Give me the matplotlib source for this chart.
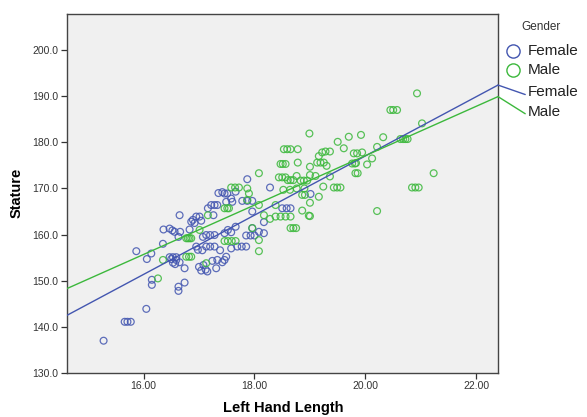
import matplotlib
matplotlib.use("Agg")
import matplotlib.pyplot as plt
from matplotlib.lines import Line2D

plt.rcParams['font.family'] = ['Liberation Sans', 'DejaVu Sans']

# ---- data ----
female_x = [15.28, 15.66, 15.71, 15.77, 16.05, 16.15, 16.15, 16.06, 16.50, 16.53,
            16.57, 16.59, 16.63, 16.63, 16.74, 16.74, 16.65, 17.00, 17.04, 17.08,
            17.12, 17.15, 17.31, 17.24, 17.33, 17.42, 15.87, 16.14, 16.35, 16.36,
            16.47, 16.52, 16.56, 16.65, 16.66, 16.63, 16.83, 16.86, 16.89, 16.95,
            17.01, 17.07, 17.13, 17.20, 17.28, 17.16, 17.22, 17.28, 17.33, 17.26,
            17.46, 17.51, 17.49, 16.95, 16.98, 17.13, 17.20, 17.28, 17.06, 17.38,
            16.47, 16.53, 16.59, 17.87, 19.01, 18.28, 17.66, 17.78, 17.87, 17.96,
            17.96, 18.50, 18.58, 18.65, 18.17, 17.96, 18.08, 18.17, 17.85, 17.93,
            18.00, 17.69, 17.77, 17.85, 17.58, 17.46, 17.52, 17.58, 17.66, 17.49,
            17.46, 17.35, 17.42, 17.58, 17.60, 16.92, 17.04]
female_y = [137.0, 141.1, 141.1, 141.1, 143.9, 150.2, 149.1, 154.7, 154.7, 153.9,
            153.6, 154.5, 148.7, 147.8, 149.6, 152.7, 154.0, 153.0, 152.2, 153.4,
            152.4, 152.0, 152.7, 154.3, 154.5, 154.0, 156.4, 155.9, 158.0, 161.1,
            161.3, 160.9, 160.6, 164.2, 160.6, 159.5, 161.1, 162.8, 163.2, 163.9,
            163.9, 159.5, 159.9, 159.9, 159.9, 165.7, 166.4, 166.4, 166.4, 164.2,
            168.9, 168.9, 167.1, 157.4, 156.7, 157.4, 157.4, 157.4, 156.6, 156.6,
            155.1, 155.1, 155.1, 172.0, 168.8, 170.2, 169.3, 167.3, 167.3, 167.3,
            165.0, 165.7, 165.7, 165.7, 162.7, 161.4, 160.6, 160.3, 159.8, 159.8,
            159.8, 157.4, 157.4, 157.4, 157.0, 160.3, 161.0, 160.5, 161.7, 155.2,
            154.5, 169.0, 169.2, 167.8, 167.1, 162.5, 163.0]

male_x = [16.26, 16.35, 16.77, 16.82, 16.86, 17.13, 16.77, 16.80, 16.83, 16.86,
          17.01, 17.16, 17.46, 17.51, 17.54, 18.99, 19.70, 19.50, 19.61, 18.53,
          18.59, 18.65, 18.78, 19.16, 19.22, 19.28, 19.36, 19.79, 19.85, 18.47,
          18.51, 18.56, 18.78, 19.00, 19.13, 19.19, 19.25, 19.30, 19.76, 19.81,
          18.08, 18.44, 18.50, 18.56, 18.60, 18.65, 18.70, 18.76, 19.00, 19.10,
          18.83, 18.89, 18.95, 18.52, 18.64, 18.76, 18.90, 18.86, 18.91, 19.24,
          19.36, 19.43, 19.49, 19.55, 19.16, 19.00, 17.58, 17.65, 17.72, 17.87,
          17.90, 17.87, 18.08, 18.17, 18.38, 18.47, 18.56, 18.65, 18.86, 19.00,
          18.08, 18.08, 17.46, 17.52, 17.59, 17.66, 18.65, 18.70, 18.75, 18.98,
          18.28, 18.38, 20.93, 20.45, 20.50, 20.57, 21.02, 19.92, 20.32, 20.63,
          20.68, 20.72, 20.76, 20.21, 21.23, 20.84, 20.90, 20.96, 20.21, 19.94,
          20.12, 20.03, 19.83, 19.82, 19.86, 17.96]
male_y = [150.5, 154.5, 155.2, 155.2, 155.2, 153.8, 159.2, 159.2, 159.2, 159.2,
          161.0, 164.2, 165.7, 165.7, 165.7, 181.9, 181.2, 180.1, 178.7, 178.5,
          178.5, 178.5, 178.5, 177.0, 177.8, 178.0, 178.0, 177.6, 177.6, 175.3,
          175.3, 175.3, 175.6, 174.7, 175.6, 175.6, 175.6, 174.9, 175.4, 175.4,
          173.3, 172.4, 172.4, 172.4, 171.8, 171.8, 171.8, 172.7, 172.9, 172.7,
          171.7, 171.7, 171.7, 169.7, 169.7, 170.0, 170.0, 168.6, 168.6, 170.4,
          172.6, 170.2, 170.2, 170.2, 168.2, 166.9, 170.2, 170.2, 170.2, 170.0,
          168.9, 167.5, 166.4, 164.2, 166.4, 163.9, 163.9, 163.9, 165.2, 164.0,
          158.8, 156.4, 158.6, 158.6, 158.6, 158.6, 161.4, 161.4, 161.4, 164.1,
          163.4, 163.9, 190.6, 187.0, 187.0, 187.0, 184.1, 181.6, 181.1, 180.7,
          180.7, 180.7, 180.7, 179.0, 173.3, 170.2, 170.2, 170.2, 165.1, 177.8,
          176.5, 175.2, 175.5, 173.3, 173.3, 161.4]

# fit lines (value at left and right edge of the plot)
fit_x = [14.62, 22.39]
female_fit = [142.5, 192.4]
male_fit = [148.3, 189.9]

x_ticks = [16, 18, 20, 22]
y_ticks = [130, 140, 150, 160, 170, 180, 190, 200]

BLUE = '#4356b0'
GREEN = '#3cb83c'

fig = plt.figure(figsize=(5.87, 4.17), dpi=100)
ax = fig.add_axes([0.1141, 0.1055, 0.7343, 0.8609])
ax.set_facecolor('#f0f0f0')

ax.scatter(female_x, female_y, s=24, facecolors='none', edgecolors=BLUE,
           linewidths=0.9, alpha=0.85, zorder=3)
ax.scatter(male_x, male_y, s=24, facecolors='none', edgecolors=GREEN,
           linewidths=0.9, alpha=0.85, zorder=3)
ax.plot(fit_x, female_fit, color=BLUE, lw=1.0, zorder=4)
ax.plot(fit_x, male_fit, color=GREEN, lw=1.0, zorder=4)

ax.set_xlim(fit_x)
ax.set_ylim(130, 207.8)
ax.set_xticks(x_ticks)
ax.set_xticklabels([f"{v:.2f}" for v in x_ticks])
ax.set_yticks(y_ticks)
ax.set_yticklabels([f"{v:.1f}" for v in y_ticks])
ax.tick_params(axis='both', labelsize=7.5, length=4.5, width=0.9, pad=1.5,
               colors='#333333', labelcolor='#333333')
for sp in ax.spines.values():
    sp.set_color('#444444')
    sp.set_linewidth(1.0)

fig.text(283 / 587, 1 - 408 / 417, 'Left Hand Length', ha='center', va='center',
         fontsize=10.5, fontweight='bold')
fig.text(17 / 587, 1 - 193 / 417, 'Stature', ha='center', va='center',
         rotation=90, fontsize=10.5, fontweight='bold')

# legend on the right
fig.text(541 / 587, 1 - 27 / 417, 'Gender', ha='center', va='center',
         fontsize=8.5, color='#333333')
for yy, col, name in [(51, BLUE, 'Female'), (70, GREEN, 'Male')]:
    fig.add_artist(Line2D([513 / 587], [1 - yy / 417], marker='o', markersize=9.5,
                          markerfacecolor='none', markeredgecolor=col,
                          markeredgewidth=1.0, transform=fig.transFigure))
    fig.text(528 / 587, 1 - yy / 417, name, ha='left', va='center',
             fontsize=11, color='#222222')

# labels at the end of each fit line
for fit, col, name, yy in [(female_fit, BLUE, 'Female', 92),
                           (male_fit, GREEN, 'Male', 112)]:
    ax.annotate(name, xy=(fit_x[1], fit[1]), xycoords='data',
                xytext=(528, 417 - yy), textcoords='figure pixels',
                ha='left', va='center', fontsize=11, color='#222222',
                annotation_clip=False,
                arrowprops=dict(arrowstyle='-', color=col, lw=1.0,
                                shrinkA=0, shrinkB=0, relpos=(0, 0.25)))

plt.savefig('out.png', dpi=100)
